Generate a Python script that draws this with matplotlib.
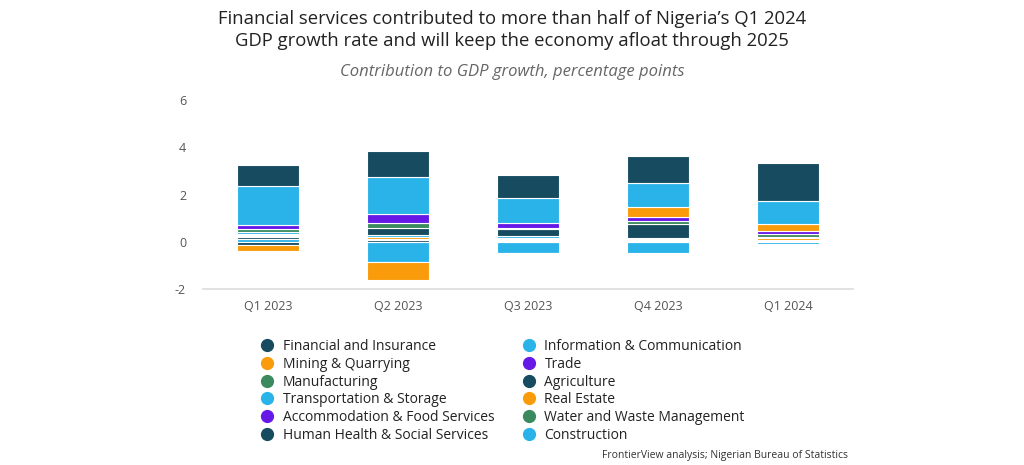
import numpy as np
import matplotlib.pyplot as plt
from matplotlib.lines import Line2D

plt.rcParams['font.family'] = ['Open Sans', 'DejaVu Sans']
plt.rcParams['axes.unicode_minus'] = False

quarters = ['Q1 2023', 'Q2 2023', 'Q3 2023', 'Q4 2023', 'Q1 2024']

sectors = ['Financial and Insurance', 'Information & Communication',
           'Mining & Quarrying', 'Trade', 'Manufacturing', 'Agriculture',
           'Transportation & Storage', 'Real Estate',
           'Accommodation & Food Services', 'Water and Waste Management',
           'Human Health & Social Services', 'Construction']

financial = [0.87, 1.10, 0.95, 1.15, 1.58]
info_comm = [1.68, 1.60, 1.05, 1.00, 0.98]
mining = [-0.25, -0.75, -0.06, 0.40, 0.30]
trade = [0.15, 0.38, 0.22, 0.18, 0.15]
manufacturing = [0.12, 0.20, 0.04, 0.12, 0.10]
agriculture = [-0.15, 0.30, 0.33, 0.60, 0.02]
transport = [0.08, 0.08, 0.05, 0.03, 0.05]
real_estate = [0.07, 0.07, 0.07, 0.04, 0.05]
accommodation = [0.03, 0.03, 0.03, 0.03, 0.03]
water = [0.03, 0.04, 0.03, 0.03, 0.03]
health = [0.08, 0.06, 0.05, 0.04, 0.04]
construction = [0.14, -0.85, -0.45, -0.45, -0.08]

series = [financial, info_comm, mining, trade, manufacturing, agriculture,
          transport, real_estate, accommodation, water, health, construction]

dark = '#174b5f'
light = '#2ab3e8'
orange = '#f99b0b'
purple = '#6619e6'
green = '#3b8a5e'
colors = [dark, light, orange, purple, green, dark,
          light, orange, purple, green, dark, light]

fig = plt.figure(figsize=(10.24, 4.65), dpi=100)
ax = fig.add_axes([0.198, 0.378, 0.635, 0.407])

x = np.arange(len(quarters))
# stack like highcharts: first series ends up furthest from zero
pos_base = np.zeros(len(quarters))
neg_base = np.zeros(len(quarters))
for vals, col in reversed(list(zip(series, colors))):
    v = np.array(vals)
    bottom = np.where(v >= 0, pos_base, neg_base)
    ax.bar(x, v, 0.48, bottom=bottom, color=col, edgecolor='white', linewidth=0.8)
    pos_base = pos_base + np.where(v >= 0, v, 0)
    neg_base = neg_base + np.where(v < 0, v, 0)

ax.set_xlim(-0.5, 4.5)
ax.set_ylim(-2, 6)
ax.set_yticks([-2, 0, 2, 4, 6])
ax.set_xticks(x)
ax.set_xticklabels(quarters)
for s in ['top', 'right', 'left']:
    ax.spines[s].set_visible(False)
ax.spines['bottom'].set_color('#dddddd')
ax.spines['bottom'].set_linewidth(1.2)
ax.tick_params(axis='both', length=0, labelsize=9, colors='#555555')
ax.tick_params(axis='y', pad=12)
ax.tick_params(axis='x', pad=8)

fig.text(0.5, 0.935, "Financial services contributed to more than half of Nigeria\u2019s Q1 2024\nGDP growth rate and will keep the economy afloat through 2025",
         ha='center', va='center', fontsize=13.3, color='#222222', linespacing=1.3)
fig.text(0.5, 0.845, 'Contribution to GDP growth, percentage points', ha='center', va='center',
         fontsize=12, style='italic', color='#666666')

handles = [Line2D([], [], marker='o', linestyle='none', markersize=8.5,
                  markerfacecolor=c, markeredgecolor=c) for c in colors]
order = [0, 2, 4, 6, 8, 10, 1, 3, 5, 7, 9, 11]
fig.legend([handles[i] for i in order], [sectors[i] for i in order], ncol=2,
           loc='upper left', bbox_to_anchor=(0.249, 0.283), frameon=False,
           fontsize=10, handletextpad=0.6, columnspacing=2.0, labelspacing=0.2,
           handlelength=1.0, borderaxespad=0, labelcolor='#222222')

fig.text(0.828, 0.021, 'FrontierView analysis; Nigerian Bureau of Statistics', ha='right',
         va='center', fontsize=7.5, color='#333333')

fig.savefig('out.png', dpi=100, facecolor='white')
